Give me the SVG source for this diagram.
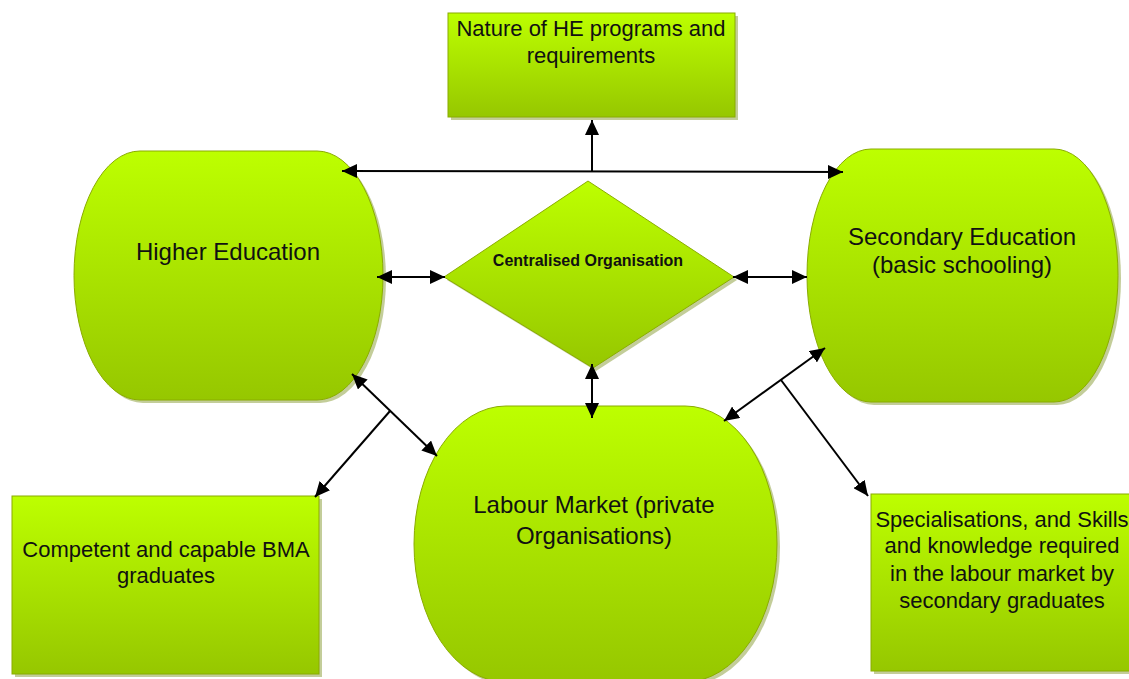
<svg xmlns="http://www.w3.org/2000/svg" width="1129" height="679" viewBox="0 0 1129 679">
<style>
.shape{fill:url(#g);stroke:#8aac00;stroke-width:1}
.shadow{fill:#a9b86e;opacity:0.7}
.t{font-family:"Liberation Sans",Arial,sans-serif;fill:#111;text-anchor:middle}
.big{font-size:24px}
.sm{font-size:22px}
.bold{font-family:"Liberation Sans",Arial,sans-serif;font-weight:bold;font-size:16px;fill:#111;text-anchor:middle}
.c{stroke:#000;stroke-width:2;fill:none}
.both{marker-start:url(#ah);marker-end:url(#ah)}
.end{marker-end:url(#ah)}
</style>
<defs>
<linearGradient id="g" x1="0" y1="0" x2="0" y2="1">
<stop offset="0" stop-color="#bdff00"/>
<stop offset="1" stop-color="#96c700"/>
</linearGradient>
<marker id="ah" viewBox="0 0 15 14" refX="15" refY="7" markerWidth="15" markerHeight="14" markerUnits="userSpaceOnUse" orient="auto-start-reverse">
<path d="M0,0 L15,7 L0,14 z" fill="#000"/>
</marker>
</defs>
<rect width="1129" height="679" fill="#fff"/>

<g id="top-box">
<rect class="shadow" x="451" y="16" width="287" height="104"/>
<rect class="shape" x="448" y="13" width="287" height="104"/>
<text class="t sm" x="591" y="36">Nature of HE programs and</text>
<text class="t sm" x="591" y="63">requirements</text>
</g>

<g id="higher-education">
<rect class="shadow" x="77" y="154" width="309" height="249" rx="66" ry="124.5"/>
<rect class="shape" x="74" y="151" width="309" height="249" rx="66" ry="124.5"/>
<text class="t big" x="228" y="260">Higher Education</text>
</g>

<g id="secondary-education">
<rect class="shadow" x="810" y="152" width="311" height="253" rx="64" ry="126.5"/>
<rect class="shape" x="807" y="149" width="311" height="253" rx="64" ry="126.5"/>
<text class="t big" x="962" y="245">Secondary Education</text>
<text class="t big" x="962" y="273">(basic schooling)</text>
</g>

<g id="centralised-organisation">
<polygon class="shadow" points="591,184 737,280 596,371 447,280"/>
<polygon class="shape" points="588,181 734,277 593,368 444,277"/>
<text class="bold" x="588" y="266">Centralised Organisation</text>
</g>

<g id="labour-market">
<rect class="shadow" x="417" y="409" width="363" height="276" rx="92" ry="138"/>
<rect class="shape" x="414" y="406" width="363" height="276" rx="92" ry="138"/>
<text class="t big" x="594" y="513">Labour Market (private</text>
<text class="t big" x="594" y="544">Organisations)</text>
</g>

<g id="graduates-box">
<rect class="shadow" x="15" y="499" width="307" height="178"/>
<rect class="shape" x="12" y="496" width="307" height="178"/>
<text class="t sm" x="166" y="557">Competent and capable BMA</text>
<text class="t sm" x="166" y="583">graduates</text>
</g>

<g id="skills-box">
<rect class="shadow" x="874" y="497" width="262" height="177"/>
<rect class="shape" x="871" y="494" width="262" height="177"/>
<text class="t sm" x="1002" y="527">Specialisations, and Skills</text>
<text class="t sm" x="1002" y="553">and knowledge required</text>
<text class="t sm" x="1002" y="581">in the labour market by</text>
<text class="t sm" x="1002" y="608">secondary graduates</text>
</g>

<g id="connectors">
<line class="c both" x1="342" y1="171" x2="843" y2="172"/>
<line class="c end" x1="592" y1="171" x2="592" y2="120"/>
<line class="c both" x1="377" y1="277" x2="445" y2="277"/>
<line class="c both" x1="733" y1="277" x2="807" y2="277"/>
<line class="c both" x1="592" y1="364" x2="592" y2="418"/>
<line class="c both" x1="352" y1="374" x2="437" y2="456"/>
<line class="c end" x1="390" y1="411" x2="315" y2="497"/>
<line class="c both" x1="825" y1="348" x2="724" y2="421"/>
<line class="c end" x1="781" y1="380" x2="868" y2="496"/>
</g>
</svg>
